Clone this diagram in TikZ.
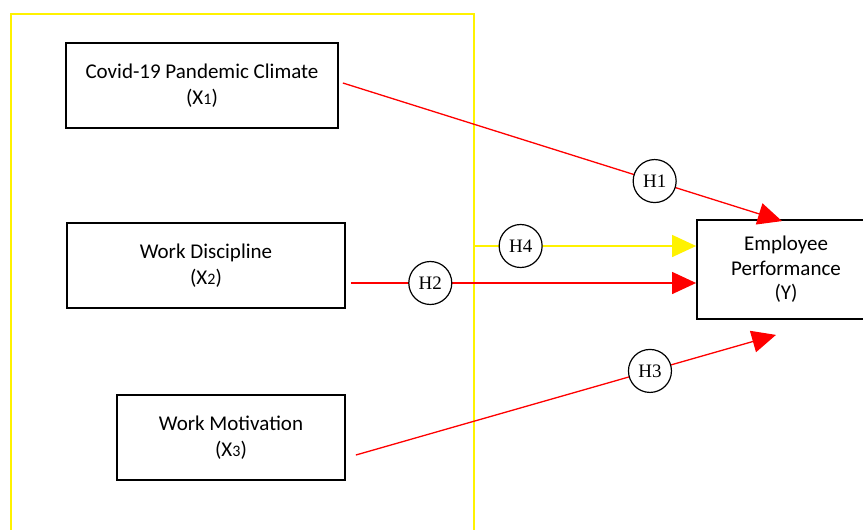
\documentclass[tikz,border=0pt]{standalone}
\usepackage{fontspec}
\setmainfont{Carlito}
\newfontfamily\hfont{Liberation Serif}
\usetikzlibrary{arrows.meta,calc}
\newcommand\subn[1]{{\fontsize{16}{16}\selectfont #1}}
\begin{document}
\begin{tikzpicture}[x=1pt,y=-1pt]
\tikzset{
 var/.style={draw=black, line width=1.8pt, fill=white, minimum height=85pt, align=center, inner sep=0pt, font=\fontsize{21}{26}\selectfont},
 hyp/.style={circle, draw=black, line width=1.2pt, fill=white, minimum size=43pt, inner sep=0pt, font=\hfont\fontsize{19}{19}\selectfont},
 redarrow/.style={draw=red, line width=1.3pt, -{Triangle[length=24pt,width=22pt]}, fill=red},
 yelarrow/.style={draw=yellow, line width=1.3pt, -{Triangle[length=24pt,width=22pt]}, fill=yellow},
 frame/.style={draw=yellow, line width=1.3pt}
}
\useasboundingbox (0,0) rectangle (863,530);
\clip (0,0) rectangle (863,530);
\fill[white] (0,0) rectangle (863,530);
\draw[frame] (11,14) rectangle (474,570);
\coordinate (h4start) at (474,246);

\node[var, minimum width=272pt] (x1) at (202,85.5) {Covid-19 Pandemic Climate\\(X\subn{1})};
\node[var, minimum width=278pt] (x2) at (206,265.5) {Work Discipline\\(X\subn{2})};
\node[var, minimum width=228pt] (x3) at (231,437.5) {Work Motivation\\(X\subn{3})};
\node[var, minimum width=178pt, minimum height=99pt, font=\fontsize{21}{24.5}\selectfont] (y) at (786,269.5) {Employee\\Performance\\(Y)};

\draw[redarrow] ($(x1.east)+(4,-2.5)$) -- node[hyp,pos=0.71] (h1) {H1} ($(y.north)+(-4,2)$);
\draw[yelarrow] (h4start) -- node[hyp,pos=0.21] (h4) {H4} ($(y.west)+(0,-23.5)$);
\draw[redarrow] ($(x2.east)+(5,17.5)$) -- node[hyp,pos=0.23] (h2) {H2} ($(y.west)+(0,13.5)$);
\draw[redarrow] ($(x3.east)+(10,17.5)$) -- node[hyp,pos=0.70] (h3) {H3} ($(y.south)+(-10,15)$);
\end{tikzpicture}
\end{document}
